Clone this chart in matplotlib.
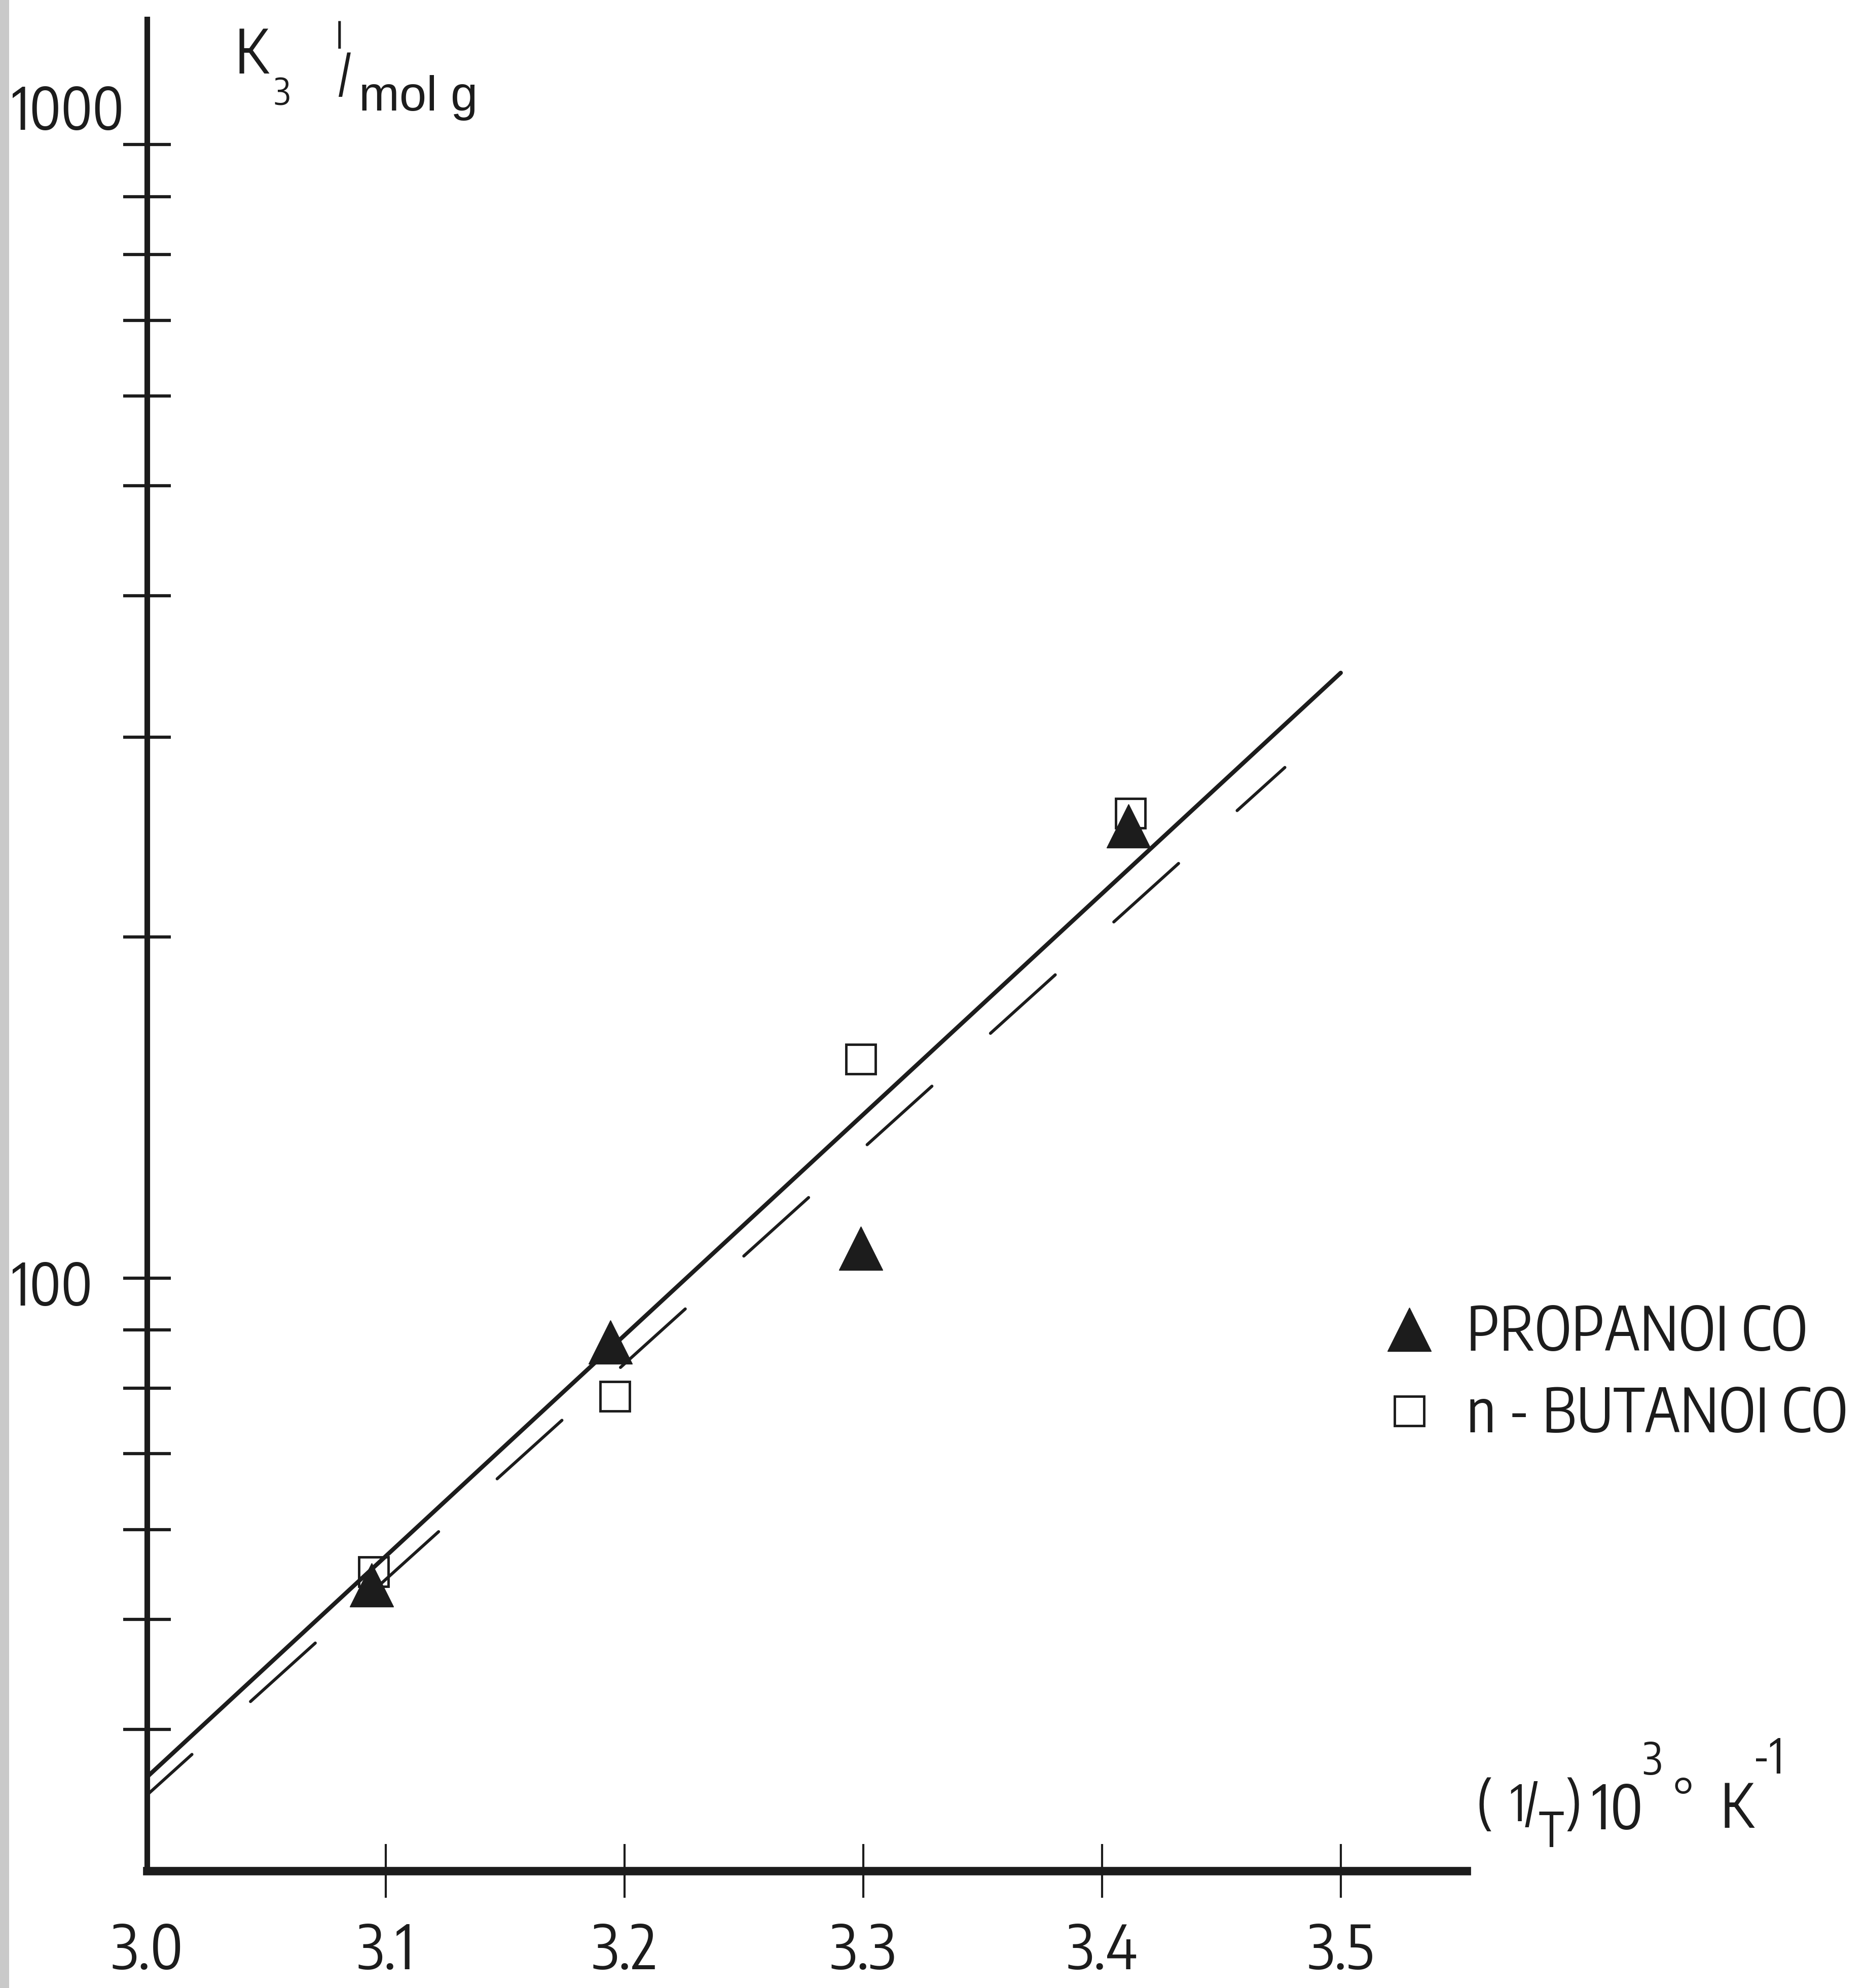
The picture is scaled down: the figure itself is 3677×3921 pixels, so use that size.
import math
import matplotlib
matplotlib.use("Agg")
import matplotlib.pyplot as plt
from matplotlib import font_manager, ticker
from matplotlib.font_manager import FontProperties
from matplotlib.patches import Rectangle
from matplotlib.textpath import TextPath

# values: x = (1/T)*10^3, y = K3 (l/mol g), log scale
prop_x = [3.094, 3.194, 3.299, 3.411]
prop_y = [53.6, 87.8, 106.3, 250.6]
but_x = [3.095, 3.196, 3.299, 3.412]
but_y = [55.1, 78.7, 156.0, 257.0]

# the two straight fits, end points
solid_x = [3.0, 3.5]
solid_y = [36.3, 342.0]
dash_x = [3.0, 3.4766]
dash_y = [35.0, 282.2]

x_ticks = [3.0, 3.1, 3.2, 3.3, 3.4, 3.5]
x_labels = ["3.0", "3.1", "3.2", "3.3", "3.4", "3.5"]
y_ticks = [40, 50, 60, 70, 80, 90, 100, 200, 300, 400, 500, 600, 700, 800, 900, 1000]
legend_labels = ["PROPANOI CO", "n - BUTANOI CO"]

W, H, DPI = 3677, 3921, 100
INK = "#1c1c1c"


def ink(s, fp):
    # ink width, height above and below the baseline, in em units
    e = TextPath((0, 0), s, size=100, prop=fp).get_extents()
    return e.width / 100, e.y1 / 100, max(-e.y0, 0) / 100


def pick_font():
    # the lettering is narrow, take the installed sans closest to it
    wanted = {"Liberation Sans", "Liberation Sans Narrow", "DejaVu Sans", "Noto Sans",
              "Roboto", "Roboto Condensed", "Open Sans", "Lato", "Inter", "Arimo"}
    best = None
    for f in font_manager.fontManager.ttflist:
        narrowish = (("Narrow" in f.name or "Condensed" in f.name)
                     and "Mono" not in f.name and "Serif" not in f.name)
        if f.name not in wanted and not narrowish:
            continue
        w = f.weight
        if f.style != "normal":
            continue
        if isinstance(w, (int, float)) and not 350 <= w <= 450:
            continue
        if isinstance(w, str) and w not in ("normal", "regular", "book"):
            continue
        try:
            fp = FontProperties(fname=f.fname)
            r = ink("PROPANOI CO", fp)[0] / ink("H", fp)[1]
        except Exception:
            continue
        score = abs(math.log(r / 7.4))
        if best is None or score < best[0]:
            best = (score, f.fname)
    if best is None:
        return FontProperties(family="DejaVu Sans")
    return FontProperties(fname=best[1])


MAIN = pick_font()
CAP = ink("H", MAIN)[1]
LP_UP = ink("l", MAIN)[1]
LP_DN = ink("p", MAIN)[2]


def fp_at(em_px, base=None):
    p = (base or MAIN).copy()
    p.set_size(em_px * 72 / DPI)
    return p


plt.rcParams["lines.scale_dashes"] = False
plt.rcParams["text.color"] = INK
plt.rcParams["xtick.color"] = INK
plt.rcParams["ytick.color"] = INK

fig = plt.figure(figsize=(W / DPI, H / DPI), dpi=DPI)
ax = fig.add_axes([290 / W, 1 - 3690 / H, (2893 - 290) / W, (3690 - 38) / H])
ax.set_yscale("log")
ax.set_xlim(3.0, 3.5527)
ax.set_ylim(30, 1290)

for s in ("top", "right"):
    ax.spines[s].set_visible(False)
ax.spines["left"].set_linewidth(8)
ax.spines["bottom"].set_linewidth(12)
for s in ("left", "bottom"):
    ax.spines[s].set_color(INK)
    ax.spines[s].set_capstyle("projecting")

# x ticks, digit tops about 105 px under the axis
em_t = 88 / CAP
pad_px = 105 - (LP_UP - CAP) * em_t
ax.set_xticks(x_ticks, x_labels)
ax.tick_params(axis="x", direction="inout", length=76, width=3, pad=pad_px * 72 / DPI - 38)
for lbl in ax.get_xticklabels():
    lbl.set_fontproperties(fp_at(em_t))
ax.xaxis.get_major_ticks()[0].tick1line.set_visible(False)

# y ticks, the two labels placed by hand left of the axis
ax.set_yticks(y_ticks)
ax.yaxis.set_minor_locator(ticker.NullLocator())
ax.tick_params(axis="y", which="both", direction="inout", length=68, width=4.5, labelleft=False)
em_y = min(97 / CAP, (238 - 24) / ink("1000", MAIN)[0])
ax.annotate("1000", xy=(0, 1000), xycoords=("axes fraction", "data"), xytext=(24 - 290, 29),
            textcoords="offset pixels", ha="left", va="baseline", fontproperties=fp_at(em_y))
ax.annotate("100", xy=(0, 100), xycoords=("axes fraction", "data"), xytext=(24 - 290, -54),
            textcoords="offset pixels", ha="left", va="baseline", fontproperties=fp_at(em_y))

# fits and points
ax.plot(solid_x, solid_y, color=INK, lw=6, solid_capstyle="round", zorder=2)
ax.plot(dash_x, dash_y, color=INK, lw=4.3, linestyle=(38, (124, 112)),
        dash_capstyle="round", zorder=2)
sq, = ax.plot(but_x, but_y, ls="none", marker="s", ms=42, mfc="none", mec=INK, mew=3.5,
              zorder=3, clip_on=False)
tri, = ax.plot(prop_x, prop_y, ls="none", marker="^", ms=62, color=INK, zorder=4, clip_on=False)

# legend: markers centred at x=2780, text from x=2893, baselines 2663 and 2823
em_l = min(95 / CAP, 740 / ink(legend_labels[0], MAIN)[0], 740 / ink(legend_labels[1], MAIN)[0])
up = max(LP_UP, 0.7) * em_l
down = LP_DN * em_l
box_w = 107
ax.legend([tri, sq], legend_labels, loc="upper left",
          bbox_to_anchor=((2780 - box_w / 2) / W, 1 - (2663 - up) / H),
          bbox_transform=fig.transFigure, prop=fp_at(em_l), frameon=False,
          handlelength=box_w / em_l, handleheight=0.7,
          handletextpad=(2893 - 2780 - box_w / 2) / em_l,
          labelspacing=(160 - up - down) / em_l, borderpad=0, borderaxespad=0, numpoints=1)


def put(x, base, s, cap_px, after=None, gap=6, font=None):
    f = font or MAIN
    em = cap_px / ink("H", f)[1]
    if after is not None:
        x = max(x, after + gap)
    fig.text(x / W, 1 - base / H, s, fontproperties=fp_at(em, f), ha="left", va="baseline")
    return x + ink(s, f)[0] * em


WIDE = FontProperties(family=["Liberation Sans", "DejaVu Sans"])

# y axis title  K3 l/mol g
r = put(463, 145, "K", 88)
put(540, 207, "3", 53, after=r, gap=4)
put(663, 96, "l", 50)
r = put(668, 180, "/", 70)
put(708, 218, "mol g", 66, after=r, gap=4, font=WIDE)

# x axis title  (1/T) 10^3 °K^-1
r = put(2912, 3589, "(", 77)
r = put(2979, 3592, "1/", 73, after=r)
r = put(3029, 3643, "T", 70, after=r, gap=3)
r = put(3068, 3589, ")", 77, after=r)
r = put(3141, 3608, "10", 88, after=r)
r = put(3217, 3500, "3", 64, after=r)
r = put(3298, 3577, "\u00b0", 70, after=r)
r = put(3393, 3605, "K", 88, after=r)
put(3426, 3498, "-1", 70, after=r)

# grey scanner strip on the left border
fig.add_artist(Rectangle((0, 0), 18 / W, 1, transform=fig.transFigure,
                         facecolor="#c9c9c9", edgecolor="none", zorder=-1))

fig.savefig("out.png", dpi=DPI)
